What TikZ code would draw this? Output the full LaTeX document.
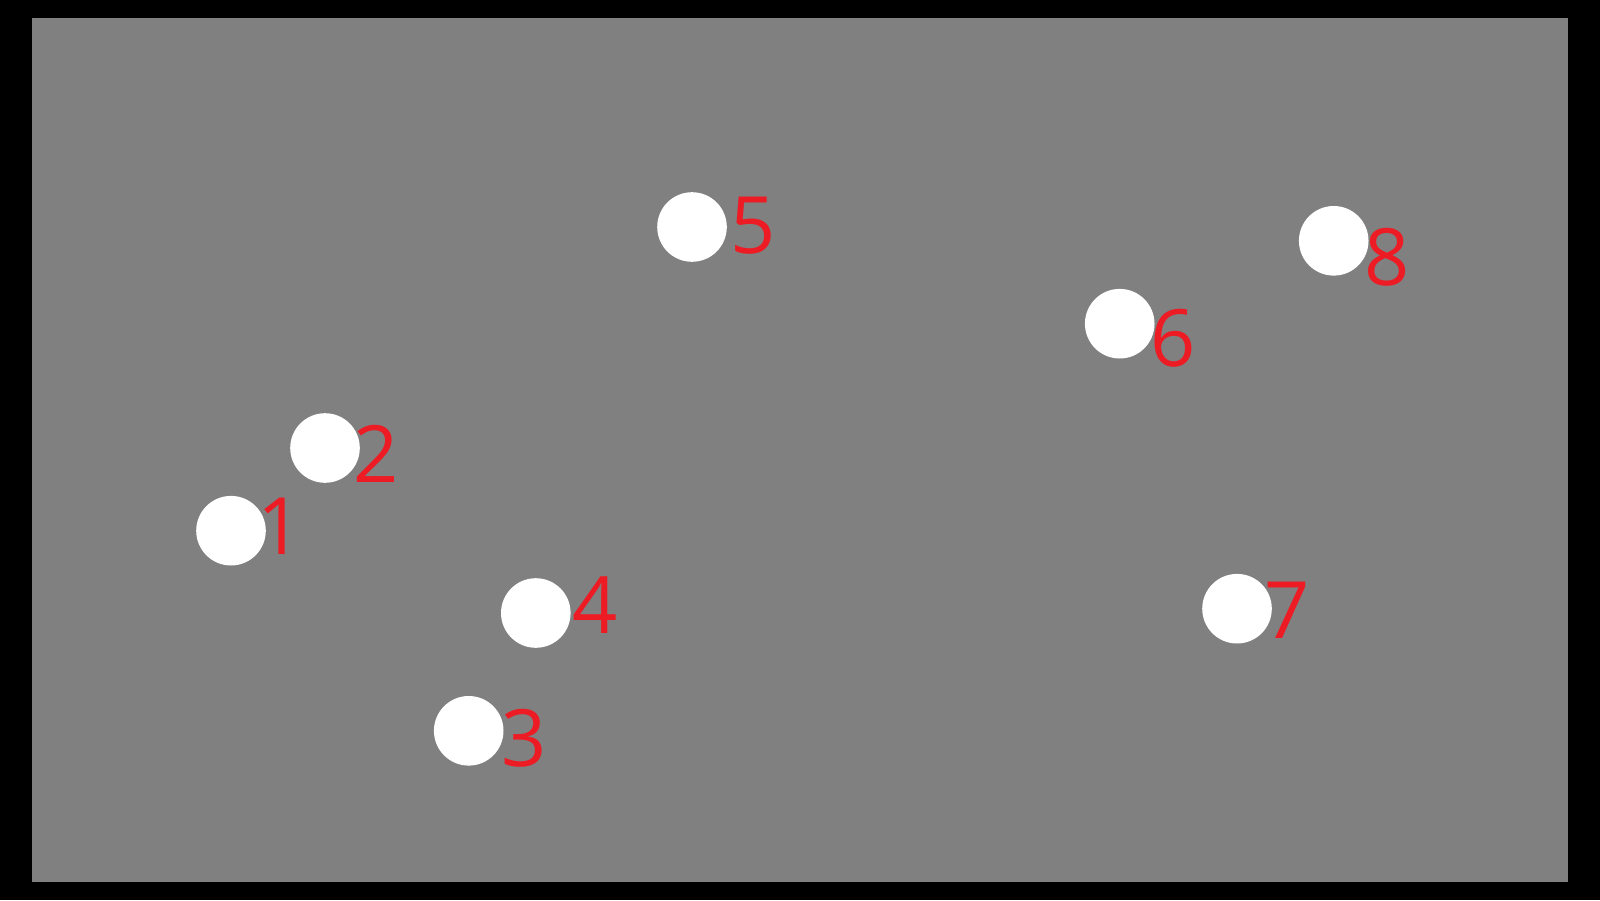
\documentclass[tikz,border=0pt]{standalone}
\usepackage{fontspec}
\newfontfamily\numfont{Open Sans}
\definecolor{spotred}{RGB}{237,28,36}
\definecolor{bggray}{RGB}{128,128,128}
\begin{document}
\begin{tikzpicture}[
	spot/.style={circle, fill=white, inner sep=0pt, minimum size=0.696cm},
	num/.style={anchor=base, inner sep=0pt, text=spotred, font=\numfont\fontsize{22.5}{27}\selectfont}
]
	\fill[black] (0,0) rectangle (16,9);
	\fill[bggray] (0.32,0.18) rectangle (15.68,8.82);

	\node[spot] (p1) at (2.31,3.693) {};
	\node[spot] (p2) at (3.25,4.52) {};
	\node[spot] (p3) at (4.687,1.692) {};
	\node[spot] (p4) at (5.358,2.87) {};
	\node[spot] (p5) at (6.92,6.73) {};
	\node[spot] (p6) at (11.197,5.763) {};
	\node[spot] (p7) at (12.37,2.913) {};
	\node[spot] (p8) at (13.337,6.592) {};

	\node[num] (n1) at (2.805,3.46) {1};
	\node[num] (n2) at (3.758,4.18) {2};
	\node[num] (n3) at (5.24,1.34) {3};
	\node[num] (n4) at (5.947,2.67) {4};
	\node[num] (n5) at (7.53,6.46) {5};
	\node[num] (n6) at (11.733,5.34) {6};
	\node[num] (n7) at (12.87,2.62) {7};
	\node[num] (n8) at (13.872,6.15) {8};
\end{tikzpicture}
\end{document}
